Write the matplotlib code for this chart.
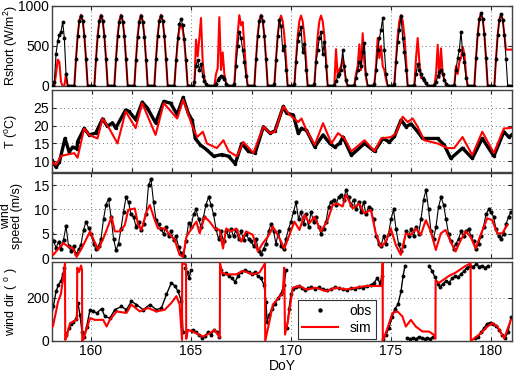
import numpy as np
import matplotlib.pyplot as plt

plt.rcParams['font.family'] = ['Liberation Sans', 'DejaVu Sans']
plt.rcParams['mathtext.fontset'] = 'custom'
plt.rcParams['mathtext.rm'] = 'Liberation Sans'
plt.rcParams['mathtext.it'] = 'Liberation Sans'
plt.rcParams['mathtext.default'] = 'regular'

# --- shortwave radiation, 2-hourly values (00h, 02h, ... 22h) per day, DoY 158..180
rshort_obs = [
    [0, 0, 50, 400, 560, 640, 680, 800, 600, 150, 0, 0],
    [0, 0, 0, 334, 625, 810, 880, 810, 625, 334, 0, 0],
    [0, 0, 0, 334, 625, 810, 880, 810, 625, 334, 0, 0],
    [0, 0, 0, 333, 621, 805, 875, 805, 621, 333, 0, 0],
    [0, 0, 0, 331, 618, 800, 870, 800, 618, 331, 0, 0],
    [0, 0, 0, 334, 625, 810, 880, 810, 625, 334, 0, 0],
    [0, 0, 0, 319, 596, 773, 840, 760, 590, 320, 0, 0],
    [0, 0, 50, 250, 330, 200, 280, 120, 60, 20, 0, 0],
    [0, 0, 0, 30, 70, 100, 130, 110, 90, 30, 0, 0],
    [0, 0, 20, 250, 500, 680, 600, 450, 300, 120, 0, 0],
    [0, 0, 0, 334, 625, 810, 880, 810, 625, 334, 0, 0],
    [0, 0, 20, 330, 620, 820, 750, 450, 500, 200, 0, 0],
    [0, 0, 20, 300, 560, 650, 740, 420, 520, 200, 0, 0],
    [0, 0, 20, 300, 450, 600, 680, 400, 550, 250, 0, 0],
    [0, 0, 10, 60, 120, 150, 200, 450, 250, 80, 0, 0],
    [0, 0, 10, 100, 200, 300, 250, 420, 540, 150, 0, 0],
    [0, 0, 20, 200, 450, 600, 700, 850, 450, 150, 0, 0],
    [0, 0, 20, 300, 550, 700, 880, 600, 420, 200, 0, 0],
    [0, 0, 10, 150, 270, 200, 150, 100, 70, 40, 0, 0],
    [0, 0, 10, 50, 120, 180, 200, 150, 80, 30, 0, 0],
    [0, 0, 10, 200, 350, 450, 680, 400, 300, 100, 0, 0],
    [0, 0, 0, 346, 646, 837, 910, 837, 646, 346, 0, 0],
    [0, 0, 0, 342, 639, 828, 900, 828, 639, 342, 0, 0],
    [0],
]
rshort_sim = [
    [0, 0, 0, 150, 330, 300, 50, 0, 0, 150, 0, 0],
    [0, 0, 0, 338, 632, 819, 890, 819, 632, 338, 0, 0],
    [0, 0, 0, 338, 632, 819, 890, 819, 632, 338, 0, 0],
    [0, 0, 0, 338, 632, 819, 890, 819, 632, 338, 0, 0],
    [0, 0, 0, 338, 632, 819, 890, 819, 632, 338, 0, 0],
    [0, 0, 0, 338, 632, 819, 890, 819, 632, 338, 0, 0],
    [0, 0, 0, 293, 547, 708, 770, 708, 547, 293, 0, 0],
    [0, 0, 0, 580, 370, 600, 850, 300, 100, 30, 0, 0],
    [0, 0, 0, 150, 220, 860, 200, 420, 150, 40, 0, 0],
    [0, 0, 20, 380, 650, 885, 760, 800, 500, 200, 0, 0],
    [0, 0, 0, 338, 632, 819, 890, 819, 632, 338, 0, 0],
    [0, 0, 0, 334, 625, 810, 880, 810, 625, 334, 0, 0],
    [0, 0, 0, 334, 625, 810, 880, 810, 625, 334, 0, 0],
    [0, 0, 0, 334, 625, 810, 880, 810, 625, 334, 0, 0],
    [0, 0, 10, 460, 120, 200, 250, 350, 200, 60, 0, 0],
    [0, 0, 10, 150, 250, 520, 200, 660, 300, 100, 0, 0],
    [0, 0, 20, 250, 600, 350, 500, 250, 200, 80, 0, 0],
    [0, 0, 20, 336, 628, 814, 885, 814, 628, 336, 0, 0],
    [0, 0, 10, 350, 600, 300, 100, 100, 60, 30, 0, 0],
    [0, 0, 10, 150, 515, 100, 470, 150, 80, 30, 0, 0],
    [0, 0, 10, 250, 150, 300, 350, 490, 400, 150, 0, 0],
    [0, 0, 0, 346, 646, 837, 910, 837, 646, 346, 0, 0],
    [0, 0, 0, 342, 639, 828, 900, 828, 639, 455, 455, 455],
    [455],
]

# --- air temperature (DoY, degC)
temp_obs = [
    (158.0, 10.3), (158.2, 8.4), (158.37, 9.8), (158.65, 16.4), (158.86, 12.6),
    (159.03, 14.0), (159.25, 13.5), (159.28, 15.5), (159.61, 19.2), (159.86, 17.4),
    (160.19, 17.9), (160.53, 21.9), (160.78, 19.8), (161.03, 20.8), (161.19, 19.3),
    (161.69, 24.4), (161.86, 24.0), (162.19, 21.7), (162.52, 26.6), (162.77, 25.0),
    (163.19, 20.8), (163.6, 26.8), (163.94, 26.3), (164.27, 23.1), (164.57, 27.9),
    (164.85, 23.1), (165.02, 21.6), (165.18, 16.4), (165.43, 14.6), (165.76, 13.2),
    (166.1, 11.4), (166.51, 11.9), (166.85, 11.4), (167.18, 9.3), (167.51, 15.0),
    (167.84, 12.8), (168.18, 12.3), (168.59, 19.7), (168.92, 17.9), (169.17, 18.5),
    (169.59, 25.4), (169.75, 23.5), (170.09, 23.0), (170.34, 17.8), (170.5, 19.2),
    (170.75, 18.7), (171.17, 14.0), (171.58, 17.4), (171.92, 15.0), (172.16, 14.0),
    (172.41, 15.0), (172.58, 16.8), (173.0, 11.7), (173.66, 15.0), (174.16, 12.8),
    (174.58, 16.4), (174.91, 15.4), (175.16, 17.0), (175.49, 21.6), (175.74, 19.7),
    (175.99, 20.5), (176.32, 18.3), (176.57, 16.4), (177.32, 16.4), (177.65, 14.6),
    (177.98, 10.8), (178.57, 13.7), (179.06, 10.8), (179.56, 16.4), (180.14, 11.4),
    (180.64, 18.3), (180.89, 16.8), (181.05, 17.5),
]
temp_sim = [
    (158.0, 9.8), (158.2, 9.0), (158.45, 11.5), (159.11, 12.3), (159.28, 11.0),
    (159.61, 19.2), (159.86, 17.4), (160.28, 16.4), (160.53, 22.0), (160.86, 19.3),
    (161.28, 15.0), (161.69, 24.0), (162.19, 19.3), (162.52, 26.3), (163.19, 17.4),
    (163.6, 26.3), (164.27, 22.0), (164.57, 27.3), (165.02, 20.0), (165.27, 16.8),
    (165.56, 18.3), (165.76, 15.0), (166.26, 13.7), (166.59, 15.9), (166.85, 12.8),
    (167.26, 11.4), (167.59, 15.4), (168.09, 12.3), (168.59, 19.7), (168.92, 17.9),
    (169.17, 18.3), (169.59, 25.4), (169.92, 23.0), (170.34, 21.0), (170.5, 22.0),
    (170.75, 18.7), (171.17, 14.6), (171.58, 20.7), (172.0, 15.0), (172.33, 17.9),
    (172.66, 16.4), (173.0, 12.8), (173.66, 15.9), (174.16, 12.8), (174.49, 16.4),
    (174.99, 16.8), (175.24, 17.9), (175.57, 22.5), (175.82, 21.0), (176.07, 22.0),
    (176.32, 19.7), (176.65, 15.9), (177.32, 15.0), (177.82, 13.7), (178.15, 13.7),
    (178.57, 16.8), (179.06, 11.7), (179.56, 18.3), (180.14, 12.3), (180.64, 19.2),
    (181.05, 19.4),
]

# --- wind speed obs, 3-hourly values per day (m/s), DoY 158..180, then 181.0
speed_obs = [
    [5.2, 3.6, 2.1, 3.4, 1.9, 3.8, 6.6, 2.5],
    [1.5, 2.5, 0.8, 1.8, 2.8, 5.8, 7.5, 6.2],
    [5.0, 3.0, 1.8, 2.5, 4.0, 8.0, 11.0, 12.2],
    [8.5, 4.0, 1.7, 3.0, 6.0, 9.5, 12.5, 11.5],
    [9.0, 8.5, 6.5, 7.5, 5.8, 7.0, 9.0, 15.0],
    [16.2, 11.5, 7.8, 7.0, 6.0, 5.0, 6.5, 4.5],
    [5.5, 3.8, 4.5, 2.4, 1.0, 0.5, 3.5, 7.2],
    [6.5, 9.0, 10.0, 8.0, 6.5, 8.5, 11.0, 12.5],
    [11.0, 9.0, 6.0, 4.0, 5.5, 3.5, 5.5, 4.5],
    [6.0, 4.5, 5.8, 4.0, 5.5, 3.8, 5.0, 4.0],
    [3.5, 2.5, 4.0, 1.5, 0.8, 2.0, 3.0, 5.5],
    [7.0, 5.5, 3.0, 5.5, 2.5, 1.8, 4.0, 6.0],
    [7.5, 9.5, 11.5, 8.0, 9.5, 7.0, 9.0, 6.5],
    [9.5, 7.5, 8.5, 6.5, 5.0, 6.0, 7.5, 10.5],
    [11.5, 12.0, 11.0, 12.5, 13.0, 12.0, 14.0, 12.5],
    [11.0, 12.0, 10.0, 11.5, 9.5, 11.5, 9.0, 10.5],
    [10.0, 8.0, 4.5, 3.0, 2.5, 4.5, 3.0, 5.0],
    [8.0, 10.0, 6.0, 3.0, 1.5, 2.5, 5.5, 4.5],
    [6.0, 4.5, 6.5, 5.0, 8.0, 12.0, 14.0, 10.0],
    [5.5, 4.0, 6.5, 10.5, 12.5, 11.0, 8.0, 5.0],
    [3.5, 2.0, 3.0, 4.0, 5.5, 4.5, 5.5, 6.0],
    [4.5, 3.5, 2.0, 3.0, 4.5, 6.5, 9.0, 10.0],
    [9.5, 8.5, 6.0, 4.5, 4.0, 5.0, 7.0, 8.5],
    [9.5],
]
speed_sim = [
    (157.98, 1.7), (158.12, 0.7), (158.37, 2.0), (158.62, 3.1), (158.86, 2.4),
    (159.11, 2.0), (159.28, 0.3), (159.53, 2.0), (159.95, 5.5), (160.36, 1.7),
    (160.69, 4.8), (161.03, 8.5), (161.19, 5.5), (161.44, 5.5), (161.69, 6.8),
    (161.86, 9.9), (162.19, 10.2), (162.36, 6.8), (162.52, 5.8), (162.77, 9.5),
    (162.94, 10.9), (163.19, 7.8), (163.35, 6.1), (163.69, 6.1), (163.94, 4.8),
    (164.19, 3.7), (164.43, 0.7), (164.6, 0.3), (164.77, 4.4), (165.02, 6.1),
    (165.27, 7.5), (165.43, 5.1), (165.68, 8.5), (165.93, 7.5), (166.18, 6.1),
    (166.43, 5.8), (166.6, 2.0), (166.76, 6.1), (167.01, 5.5), (167.26, 6.1),
    (167.51, 3.4), (167.76, 5.5), (168.09, 4.8), (168.34, 1.4), (168.59, 3.1),
    (168.84, 4.4), (169.09, 6.5), (169.42, 4.1), (169.67, 2.0), (169.92, 4.8),
    (170.17, 7.5), (170.42, 5.8), (170.67, 8.9), (170.92, 7.2), (171.17, 8.5),
    (171.5, 5.5), (171.83, 7.8), (172.08, 10.9), (172.33, 11.2), (172.58, 10.6),
    (172.75, 13.0), (173.08, 10.2), (173.41, 11.2), (173.66, 9.2), (173.99, 9.9),
    (174.24, 5.1), (174.49, 2.4), (174.74, 3.4), (174.99, 6.1), (175.24, 2.7),
    (175.49, 0.7), (175.74, 5.1), (175.99, 4.8), (176.24, 6.1), (176.49, 4.8),
    (176.74, 7.8), (176.99, 5.5), (177.24, 1.7), (177.49, 5.1), (177.73, 5.8),
    (177.98, 3.4), (178.23, 1.4), (178.48, 3.7), (178.73, 5.5), (178.98, 4.4),
    (179.23, 2.0), (179.48, 4.8), (179.81, 8.2), (180.06, 7.8), (180.31, 5.1),
    (180.56, 5.1), (180.81, 6.8),
]

# --- wind direction (DoY, deg); nan breaks the obs line where it wraps
nan = np.nan
wdir_obs = [
    (158.0, 100), (158.12, 160), (158.25, 230), (158.37, 260), (158.5, 280),
    (158.6, 310), (158.67, 340), (158.7, nan),
    (158.75, 30), (158.9, 60), (159.0, 80), (159.1, 90), (159.25, 100),
    (159.35, 175), (159.45, 120), (159.55, 40), (159.65, 20), (159.78, 67),
    (159.95, 145), (160.11, 137), (160.28, 130), (160.53, 150), (160.69, 114),
    (160.94, 106), (161.19, 145), (161.52, 160), (161.77, 145), (162.02, 184),
    (162.27, 169), (162.61, 145), (162.94, 169), (163.27, 145), (163.52, 153),
    (163.77, 216), (164.02, 270), (164.19, 255), (164.35, 231), (164.52, 184),
    (164.6, 44), (164.65, nan),
    (164.7, 340), (164.8, 320), (164.9, 290), (165.0, 330), (165.02, nan),
    (165.05, 45), (165.1, 50), (165.25, 40), (165.4, 30), (165.55, 15),
    (165.7, 25), (165.85, 40), (166.0, 30), (166.15, 50), (166.3, 40),
    (166.42, 20), (166.46, nan),
    (166.5, 330), (166.6, 310), (166.75, 315), (166.9, 300), (167.05, 290),
    (167.2, 275), (167.35, 300), (167.5, 320), (167.7, 330), (167.9, 320),
    (168.05, 310), (168.2, 320), (168.35, 300), (168.5, 290), (168.65, 260),
    (168.75, 180), (168.8, 90), (168.9, 120), (169.05, 150), (169.2, 170),
    (169.35, 200), (169.5, 220), (169.65, 260), (169.75, 330), (169.77, nan),
    (169.8, 60), (169.9, 150), (170.0, 220), (170.1, 240), (170.25, 250),
    (170.4, 255), (170.55, 245), (170.7, 235), (170.85, 245), (171.0, 250),
    (171.2, 240), (171.4, 250), (171.6, 240), (171.8, 235), (172.0, 240),
    (172.2, 250), (172.4, 245), (172.6, 240), (172.8, 235), (173.0, 245),
    (173.2, 240), (173.4, 250), (173.6, 245), (173.8, 255), (174.0, 260),
    (174.15, 270), (174.3, 290), (174.45, 270), (174.55, 300), (174.58, nan),
    (174.62, 10), (174.75, 30), (174.9, 60), (175.05, 110), (175.2, 150),
    (175.35, 170), (175.5, 230), (175.6, 300), (175.7, 350), (175.75, nan),
    (175.8, 15), (175.95, 10), (176.1, 15), (176.25, 10), (176.4, 20),
    (176.55, 15), (176.7, 10), (176.8, 15), (176.95, 10), (177.1, 20),
    (177.12, nan),
    (176.9, 350), (177.05, 325), (177.2, 295), (177.35, 265), (177.45, 250),
    (177.6, 265), (177.75, 280), (177.9, 270), (178.05, 290), (178.2, 300),
    (178.35, 295), (178.5, 310), (178.65, 325), (178.8, 340), (178.95, 350),
    (179.1, 345), (179.25, 355), (179.4, 345), (179.55, 350), (179.7, 340),
    (179.85, 350), (179.87, nan),
    (179.2, 15), (179.35, 20), (179.5, 40), (179.65, 60), (179.8, 80),
    (179.95, 85), (180.1, 80), (180.25, 70), (180.4, 50), (180.55, 30),
    (180.7, 15), (180.85, 40), (181.0, 110),
]
wdir_sim = [
    (158.0, 60), (158.1, 69), (158.35, 181), (158.5, 220), (158.62, 300),
    (158.7, 360), (158.71, 5), (158.8, 25), (158.95, 83), (159.11, 90),
    (159.3, 100), (159.31, 340), (159.4, 320), (159.5, 350), (159.55, 330),
    (159.56, 0), (159.61, 5), (159.95, 106), (160.19, 98), (160.61, 98),
    (160.78, 67), (160.94, 98), (161.28, 137), (161.77, 130), (162.02, 169),
    (162.44, 137), (162.85, 153), (163.27, 137), (163.69, 145), (164.02, 177),
    (164.27, 208), (164.43, 169), (164.55, 5), (164.56, 360), (164.75, 355),
    (164.76, 10), (164.85, 52), (165.27, 36), (165.6, 20), (165.93, 36),
    (166.18, 52), (166.44, 15), (166.45, 360), (166.55, 317), (166.76, 309),
    (167.26, 309), (167.59, 325), (168.09, 309), (168.42, 317), (168.7, 360),
    (168.71, 0), (168.92, 90), (169.09, 169), (169.59, 223), (169.66, 340),
    (169.7, 30), (169.84, 90), (170.09, 247), (170.42, 255), (170.75, 239),
    (171.25, 247), (171.75, 231), (172.25, 247), (172.75, 239), (173.25, 247),
    (173.74, 255), (174.24, 255), (174.55, 255), (174.58, 360), (174.59, 0),
    (174.82, 59), (175.07, 130), (175.32, 137), (175.57, 114), (175.74, 67),
    (175.99, 98), (176.24, 67), (176.57, 44), (176.9, 44), (177.15, 28),
    (177.22, 10), (177.23, 280), (177.4, 270), (177.65, 286), (177.9, 302),
    (178.23, 317), (178.48, 333), (178.73, 348), (178.98, 360), (178.99, 0),
    (179.16, 12), (179.49, 36), (179.82, 67), (180.07, 83), (180.32, 67),
    (180.66, 12), (180.99, 98),
]


def regular_series(blocks, start, per_day):
    vals = np.concatenate([np.asarray(b, dtype=float) for b in blocks])
    days = start + np.arange(len(vals)) / per_day
    return days, vals


def pairs(data):
    arr = np.asarray(data, dtype=float)
    return arr[:, 0], arr[:, 1]


def style_axis(ax, ylim, yticks, xticks, label_x=-0.07):
    ax.set_xlim(158.05, 181.05)
    ax.set_ylim(ylim)
    ax.set_yticks(yticks)
    ax.set_xticks(xticks)
    ax.grid(True, linestyle=(0, (1, 3)), color='0.45', linewidth=0.7)
    ax.tick_params(direction='in', top=True, right=True, length=3,
                   labelsize=10, pad=2, colors='0.15', labelcolor='black')
    for s in ax.spines.values():
        s.set_linewidth(1.0)
        s.set_color('0.25')
    ax.yaxis.set_label_coords(label_x, 0.5)


fig = plt.figure(figsize=(5.16, 3.77), dpi=100)
left, width = 0.1008, 0.8915
ax1 = fig.add_axes([left, 0.7719, width, 0.2122])
ax2 = fig.add_axes([left, 0.5438, width, 0.2175])
ax3 = fig.add_axes([left, 0.3149, width, 0.2254])
ax4 = fig.add_axes([left, 0.0955, width, 0.2088])

ticks5 = [160, 165, 170, 175, 180]
ticks2 = list(range(158, 182, 2))

# Rshort
d, v = regular_series(rshort_sim, 158.0, 12)
ax1.plot(d, v, color='red', lw=1.5, zorder=2)
d, v = regular_series(rshort_obs, 158.0, 12)
ax1.plot(d, v, color='black', lw=0.8, zorder=3)
ax1.plot(d, v, 'o', color='black', ms=1.8, zorder=3)
style_axis(ax1, (0, 1000), [0, 500, 1000], ticks5)
ax1.set_ylabel('Rshort (W/m$^2$)', fontsize=9)

# T
d, v = pairs(temp_obs)
ax2.plot(d, v, color='black', lw=2.4, zorder=2)
ax2.plot(d, v, 'o', color='black', ms=1.5, zorder=2)
d, v = pairs(temp_sim)
ax2.plot(d, v, color='red', lw=1.5, zorder=3)
style_axis(ax2, (7, 30), [10, 15, 20, 25], ticks2)
ax2.set_ylabel('T ($^o$C)', fontsize=9)

# wind speed
d, v = regular_series(speed_obs, 158.0, 8)
ax3.plot(d, v, color='black', lw=0.8, zorder=2)
ax3.plot(d, v, 'o', color='black', ms=2.0, zorder=2)
d, v = pairs(speed_sim)
ax3.plot(d, v, color='red', lw=1.5, zorder=3)
style_axis(ax3, (0, 17.4), [0, 5, 10, 15], ticks5, label_x=-0.062)
ax3.set_ylabel('wind\nspeed (m/s)', fontsize=9, linespacing=0.95)

# wind direction
d, v = pairs(wdir_obs)
ax4.plot(d, v, color='black', lw=1.0, zorder=2)
obs_h, = ax4.plot(d, v, 'o', color='black', ms=1.8, zorder=2, label='obs')
d, v = pairs(wdir_sim)
sim_h, = ax4.plot(d, v, color='red', lw=1.5, zorder=3, label='sim')
style_axis(ax4, (0, 365), [0, 200], ticks5)
ax4.set_ylabel('wind dir ( $^o$ )', fontsize=9)
ax4.set_xlabel('DoY', fontsize=10, labelpad=1)

for ax in (ax1, ax2, ax3):
    ax.tick_params(labelbottom=False)

leg = ax4.legend(handles=[obs_h, sim_h], loc='lower left',
                 bbox_to_anchor=(0.535, 0.02), fontsize=10, frameon=True,
                 fancybox=False, framealpha=1, edgecolor='0.2',
                 borderaxespad=0, handlelength=2.6, markerscale=1.2,
                 labelspacing=0.25, borderpad=0.3)
leg.get_frame().set_linewidth(0.8)
leg.set_zorder(5)

fig.savefig('out.png', dpi=100)
